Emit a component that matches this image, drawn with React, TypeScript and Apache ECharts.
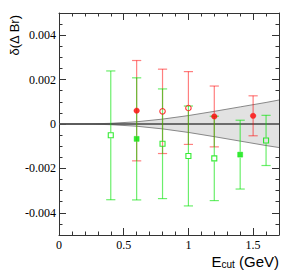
import React, { useEffect, useRef } from 'react';
import * as echarts from 'echarts';

const xMin = 0;
const xMax = 1.7;
const yMin = -0.005;
const yMax = 0.005;
const xTickLabels = ['0', '0.5', '1', '1.5'];
const yTickLabels = ['-0.004', '-0.002', '0', '0.002', '0.004'];

const greenX = [0.4, 0.6, 0.8, 1.0, 1.2, 1.4, 1.6];
const greenY = [-0.00051, -0.00067, -0.00089, -0.00144, -0.00155, -0.00138, -0.00074];
const greenErr = [0.0029, 0.00275, 0.00247, 0.00225, 0.0019, 0.00155, 0.00113];
const greenFilled = [false, true, false, false, false, true, false];

const redX = [0.6, 0.8, 1.0, 1.2, 1.5];
const redY = [0.0006, 0.00057, 0.00072, 0.00034, 0.00037];
const redErr = [0.00226, 0.0019, 0.00164, 0.00137, 0.0009];
const redFilled = [true, false, false, true, true];

const bandX = [0, 0.2, 0.4, 0.6, 0.8, 1.0, 1.2, 1.4, 1.6, 1.7];
const bandUpper = [0, 0, 0.00003, 0.0001, 0.00022, 0.00038, 0.00057, 0.00077, 0.00097, 0.00108];
const bandLower = [0, 0, -0.00003, -0.0001, -0.00022, -0.00038, -0.00057, -0.00077, -0.00097, -0.00106];

const zeroLineX = [0, 1.7];

const SERIF = "'Liberation Serif', 'DejaVu Serif', serif";
const SANS = "'Liberation Sans', Arial, sans-serif";
const FRAME = '#333';

function fmt(v: number) {
  return String(+Number(v).toFixed(4));
}

function errorBars(xs: number[], ys: number[], es: number[], color: string, z: number) {
  return {
    type: 'custom',
    z,
    silent: true,
    xAxisIndex: 0,
    yAxisIndex: 0,
    encode: { x: 0, y: 1 },
    data: xs.map((x, i) => [x, ys[i], es[i]]),
    renderItem: (_params: any, api: any) => {
      const x = api.value(0);
      const y = api.value(1);
      const e = api.value(2);
      const pc = api.coord([x, y]);
      const pt = api.coord([x, y + e]);
      const pb = api.coord([x, y - e]);
      const gap = 3;
      const cap = 4.6;
      const style = { stroke: color, lineWidth: 1.2, fill: 'none' };
      return {
        type: 'group',
        children: [
          { type: 'line', shape: { x1: pc[0], y1: pt[1], x2: pc[0], y2: pc[1] - gap }, style },
          { type: 'line', shape: { x1: pc[0], y1: pc[1] + gap, x2: pc[0], y2: pb[1] }, style },
          { type: 'line', shape: { x1: pc[0] - cap, y1: pt[1], x2: pc[0] + cap, y2: pt[1] }, style },
          { type: 'line', shape: { x1: pc[0] - cap, y1: pb[1], x2: pc[0] + cap, y2: pb[1] }, style },
        ],
      };
    },
  };
}

function markers(xs: number[], ys: number[], filled: boolean[], symbol: string, color: string, size: number, z: number) {
  return {
    type: 'scatter',
    z,
    silent: true,
    xAxisIndex: 0,
    yAxisIndex: 0,
    symbol,
    symbolSize: size,
    data: xs.map((x, i) => ({
      value: [x, ys[i]],
      itemStyle: filled[i]
        ? { color, borderColor: color, borderWidth: 0.5 }
        : { color: 'rgba(0,0,0,0)', borderColor: color, borderWidth: 1.1 },
    })),
  };
}

export default function App() {
  const ref = useRef<HTMLDivElement>(null);

  useEffect(() => {
    const chart = echarts.init(ref.current!, null, { renderer: 'svg' });

    const tickStyle = { color: FRAME, width: 1 };
    const xBase = { type: 'value', min: xMin, max: xMax, splitLine: { show: false }, gridIndex: 0 };
    const yBase = { type: 'value', min: yMin, max: yMax, splitLine: { show: false }, gridIndex: 0 };

    const option: any = {
      animation: false,
      backgroundColor: '#fff',
      grid: [{ left: 59, right: 15, top: 13, bottom: 45, containLabel: false }],
      xAxis: [
        {
          ...xBase,
          position: 'bottom',
          interval: 0.5,
          axisLine: { show: true, onZero: false, lineStyle: tickStyle },
          axisTick: { show: true, inside: true, length: 7, lineStyle: tickStyle },
          axisLabel: {
            show: true,
            margin: 4,
            color: '#000',
            fontFamily: SERIF,
            fontSize: 12,
            formatter: (v: number) => (xTickLabels.includes(fmt(v)) ? fmt(v) : ''),
          },
        },
        {
          ...xBase,
          position: 'bottom',
          interval: 0.1,
          axisLine: { show: false, onZero: false },
          axisTick: { show: true, inside: true, length: 3.5, lineStyle: tickStyle },
          axisLabel: { show: false },
        },
        {
          ...xBase,
          position: 'top',
          interval: 0.5,
          axisLine: { show: true, onZero: false, lineStyle: tickStyle },
          axisTick: { show: true, inside: true, length: 7, lineStyle: tickStyle },
          axisLabel: { show: false },
        },
        {
          ...xBase,
          position: 'top',
          interval: 0.1,
          axisLine: { show: false, onZero: false },
          axisTick: { show: true, inside: true, length: 3.5, lineStyle: tickStyle },
          axisLabel: { show: false },
        },
      ],
      yAxis: [
        {
          ...yBase,
          position: 'left',
          splitNumber: 5,
          axisLine: { show: true, onZero: false, lineStyle: tickStyle },
          axisTick: { show: true, inside: true, length: 7, lineStyle: tickStyle },
          axisLabel: {
            show: true,
            margin: 3,
            color: '#000',
            fontFamily: SERIF,
            fontSize: 12,
            formatter: (v: number) => (yTickLabels.includes(fmt(v)) ? fmt(v) : ''),
          },
        },
        {
          ...yBase,
          position: 'left',
          interval: 0.0005,
          axisLine: { show: false, onZero: false },
          axisTick: { show: true, inside: true, length: 3.5, lineStyle: tickStyle },
          axisLabel: { show: false },
        },
        {
          ...yBase,
          position: 'right',
          splitNumber: 5,
          axisLine: { show: true, onZero: false, lineStyle: tickStyle },
          axisTick: { show: true, inside: true, length: 7, lineStyle: tickStyle },
          axisLabel: { show: false },
        },
        {
          ...yBase,
          position: 'right',
          interval: 0.0005,
          axisLine: { show: false, onZero: false },
          axisTick: { show: true, inside: true, length: 3.5, lineStyle: tickStyle },
          axisLabel: { show: false },
        },
      ],
      series: [
        {
          type: 'custom',
          z: 1,
          silent: true,
          xAxisIndex: 0,
          yAxisIndex: 0,
          encode: { x: 0, y: 1 },
          data: [[0, 0]],
          renderItem: (_p: any, api: any) => {
            const up = bandX.map((x, i) => api.coord([x, bandUpper[i]]));
            const lo = bandX.map((x, i) => api.coord([x, bandLower[i]]));
            const poly = up.concat(lo.slice().reverse());
            return {
              type: 'group',
              children: [
                { type: 'polygon', shape: { points: poly }, style: { fill: '#e2e2e2', stroke: 'none' } },
                { type: 'polyline', shape: { points: up }, style: { stroke: '#888', lineWidth: 1, fill: 'none' } },
                { type: 'polyline', shape: { points: lo }, style: { stroke: '#888', lineWidth: 1, fill: 'none' } },
              ],
            };
          },
        },
        {
          type: 'line',
          z: 2,
          silent: true,
          xAxisIndex: 0,
          yAxisIndex: 0,
          symbol: 'none',
          lineStyle: { color: '#444', width: 1.6 },
          data: zeroLineX.map((x) => [x, 0]),
        },
        errorBars(redX, redY, redErr, 'rgba(255,0,0,0.5)', 3),
        errorBars(greenX, greenY, greenErr, 'rgba(0,225,0,0.58)', 4),
        markers(redX, redY, redFilled, 'circle', '#ff0000', 5.5, 5),
        markers(greenX, greenY, greenFilled, 'rect', '#00e600', 5, 6),
      ],
      graphic: [
        {
          type: 'text',
          x: 14,
          y: 15,
          rotation: Math.PI / 2,
          style: {
            text: 'δ(Δ Br)',
            fontFamily: SANS,
            fontSize: 13,
            fill: '#000',
            align: 'right',
            verticalAlign: 'middle',
          },
        },
        {
          type: 'text',
          x: 279,
          y: 260,
          style: {
            text: '{a|E}{b|cut}{a| (GeV)}',
            align: 'right',
            verticalAlign: 'middle',
            fill: '#000',
            rich: {
              a: { fontFamily: SANS, fontSize: 15, lineHeight: 18, verticalAlign: 'bottom', fill: '#000' },
              b: { fontFamily: SANS, fontSize: 10, lineHeight: 6, verticalAlign: 'bottom', fill: '#000' },
            },
          },
        },
      ],
    };

    chart.setOption(option);
    return () => chart.dispose();
  }, []);

  return (
    <div
      ref={ref}
      style={{ position: 'fixed', left: 0, top: 0, width: 294, height: 280, background: '#fff' }}
    />
  );
}
